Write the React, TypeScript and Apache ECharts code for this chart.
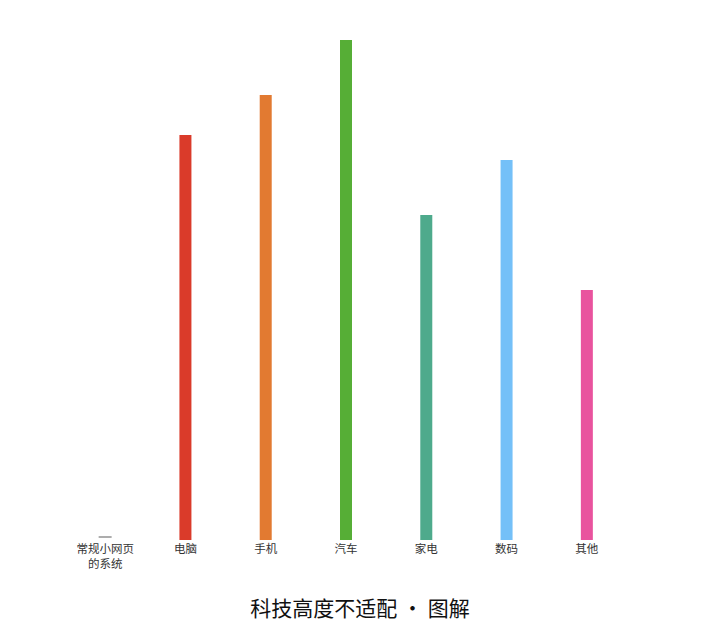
import React, { useEffect, useRef } from 'react';
import * as echarts from 'echarts';

const categories = ['常规小网页的系统', '电脑', '手机', '汽车', '家电', '数码', '其他'];
const values: (number | null)[] = [null, 81, 89, 100, 65, 76, 50];
const barColors = ['#333333', '#da3b2a', '#e27a31', '#56ae36', '#4eaa8c', '#74c0f8', '#e9539e'];
// the tiny dash drawn over the first category
const baseMark = [[0, 0.6]];
const titleText = '科技高度不适配 · 图解';

export default function App() {
    const chartRef = useRef<HTMLDivElement>(null);

    useEffect(() => {
        document.body.style.margin = '0';
        const chart = echarts.init(chartRef.current!, null, { renderer: 'svg' });

        chart.setOption({
            animation: false,
            backgroundColor: '#ffffff',
            title: {
                text: titleText,
                left: 'center',
                top: 591,
                textStyle: {
                    color: '#111111',
                    fontSize: 21,
                    fontWeight: 'normal',
                    fontFamily: 'Noto Sans CJK SC',
                },
            },
            grid: {
                left: 65,
                right: 93,
                top: 40,
                bottom: 90,
            },
            xAxis: {
                type: 'category',
                data: categories,
                axisLine: { show: false },
                axisTick: { show: false },
                axisLabel: {
                    interval: 0,
                    margin: 1,
                    color: '#333333',
                    fontSize: 11.5,
                    lineHeight: 14.5,
                    fontFamily: 'Noto Sans CJK SC',
                    width: 62,
                    overflow: 'break',
                },
            },
            yAxis: {
                type: 'value',
                min: 0,
                max: 100,
                show: false,
                splitLine: { show: false },
            },
            series: [
                {
                    type: 'bar',
                    barWidth: 12,
                    data: values.map((v, i) => ({
                        value: v,
                        itemStyle: { color: barColors[i] },
                    })),
                },
                {
                    type: 'scatter',
                    symbol: 'rect',
                    symbolSize: [13, 1],
                    itemStyle: { color: barColors[0] },
                    data: baseMark,
                },
            ],
        });

        return () => {
            chart.dispose();
        };
    }, []);

    return <div ref={chartRef} style={{ width: 720, height: 630 }} />;
}
